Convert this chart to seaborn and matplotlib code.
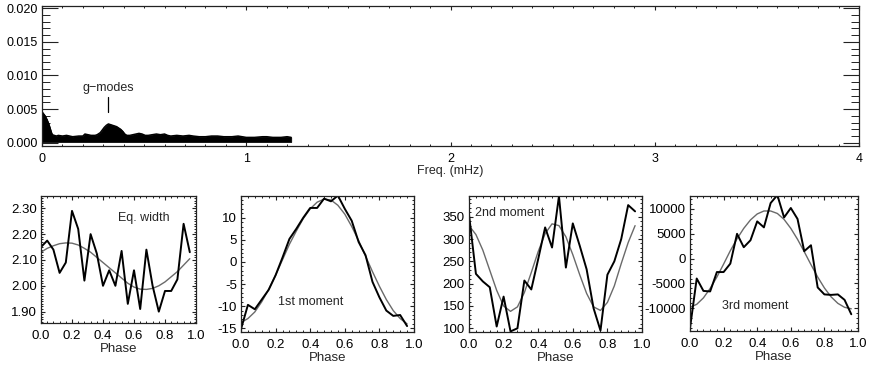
import numpy as np
import pandas as pd
import matplotlib
matplotlib.use("Agg")
import matplotlib.pyplot as plt
from matplotlib.ticker import MultipleLocator, FormatStrFormatter
import seaborn as sns

# ---------------- data ----------------
# amplitude spectrum upper envelope (freq in mHz, amplitude)
spec_freq = [0.000, 0.005, 0.010, 0.015, 0.020, 0.025, 0.030, 0.035, 0.040, 0.045, 0.050,
             0.060, 0.070, 0.080, 0.100, 0.120, 0.150, 0.180, 0.200, 0.210, 0.225, 0.240,
             0.260, 0.270, 0.285, 0.295, 0.305, 0.315, 0.325, 0.335, 0.345, 0.355, 0.365,
             0.375, 0.385, 0.395, 0.405, 0.415, 0.430, 0.445, 0.460, 0.475, 0.490, 0.505,
             0.520, 0.540, 0.560, 0.580, 0.600, 0.615, 0.630, 0.660, 0.690, 0.720, 0.740,
             0.770, 0.800, 0.830, 0.860, 0.890, 0.930, 0.960, 1.000, 1.040, 1.080, 1.100,
             1.130, 1.170, 1.200, 1.220]
spec_amp = [0.0046, 0.0044, 0.0042, 0.0040, 0.0037, 0.0034, 0.0030, 0.0026, 0.0021, 0.0016, 0.0012,
            0.0011, 0.0010, 0.0011, 0.0010, 0.0011, 0.0009, 0.0010, 0.0010, 0.0013, 0.0012, 0.0011,
            0.0011, 0.0012, 0.0015, 0.0019, 0.0023, 0.0026, 0.0028, 0.0027, 0.0026, 0.0025, 0.0024,
            0.0022, 0.0020, 0.0017, 0.0013, 0.0011, 0.0011, 0.0012, 0.0013, 0.0014, 0.0013, 0.0011,
            0.0011, 0.0012, 0.0013, 0.0012, 0.0013, 0.0011, 0.0010, 0.0011, 0.0010, 0.0011, 0.0010,
            0.0009, 0.0009, 0.0010, 0.0010, 0.0009, 0.0009, 0.0010, 0.0008, 0.0008, 0.0009, 0.0009,
            0.0008, 0.0008, 0.0009, 0.0008]
spec_floor = 0.00012

phase = [0.00, 0.04, 0.08, 0.12, 0.16, 0.20, 0.24, 0.28, 0.32, 0.36, 0.40, 0.44, 0.48,
         0.52, 0.56, 0.60, 0.64, 0.68, 0.72, 0.76, 0.80, 0.84, 0.88, 0.92, 0.96]

eqw_obs = [2.15, 2.175, 2.14, 2.05, 2.09, 2.29, 2.22, 2.02, 2.20, 2.125, 2.00, 2.06, 2.00,
           2.135, 1.93, 2.06, 1.91, 2.14, 2.00, 1.90, 1.98, 1.98, 2.025, 2.24, 2.13]
eqw_fit = [2.13, 2.145, 2.155, 2.163, 2.166, 2.165, 2.158, 2.145, 2.13, 2.11, 2.09, 2.07, 2.05,
           2.03, 2.01, 1.995, 1.987, 1.986, 1.99, 2.00, 2.015, 2.035, 2.055, 2.08, 2.105]

m1_obs = [-15.2, -9.7, -10.7, -8.5, -6.3, -3.0, 1.0, 5.2, 7.5, 10.0, 12.2, 12.2, 14.3,
          13.7, 15.0, 12.0, 9.3, 4.5, 1.5, -4.5, -8.0, -11.0, -12.2, -12.0, -14.5]
m1_fit = [-13.7, -12.8, -11.3, -9.0, -6.2, -3.0, 0.5, 4.0, 7.0, 9.8, 12.0, 13.5, 14.2,
          14.0, 12.8, 10.8, 8.0, 4.8, 1.3, -2.2, -5.5, -8.5, -11.0, -12.8, -14.0]

m2_obs = [355, 222, 205, 192, 104, 171, 93, 100, 207, 187, 255, 326, 281,
          396, 236, 335, 285, 232, 145, 95, 220, 250, 300, 376, 362]
m2_fit = [330, 310, 275, 230, 185, 150, 138, 148, 180, 225, 272, 312, 334,
          330, 305, 265, 220, 178, 148, 140, 158, 195, 245, 292, 330]

m3_obs = [-14000, -4000, -6500, -6600, -2700, -2700, -1000, 5000, 2300, 3700, 7500, 6300, 11200,
          12800, 8300, 10200, 8000, 1500, 2700, -5800, -7200, -7300, -7200, -8300, -11200]
m3_fit = [-9800, -9200, -7900, -6000, -3700, -1100, 1600, 4000, 6100, 7800, 9000, 9600, 9600,
          9100, 7900, 6100, 3900, 1400, -1200, -3700, -5900, -7700, -9000, -9800, -10100]

panel_labels = ["Eq. width", "1st moment", "2nd moment", "3rd moment"]
top_xticks = [0, 1, 2, 3, 4]
top_yticks = [0.000, 0.005, 0.010, 0.015, 0.020]
phase_ticks = [0.0, 0.2, 0.4, 0.6, 0.8, 1.0]

# ---------------- style ----------------
sns.set_theme(style="ticks")
plt.rcParams['font.family'] = ['Liberation Sans', 'DejaVu Sans']
plt.rcParams.update({
    "axes.edgecolor": "#222222",
    "axes.linewidth": 0.9,
    "xtick.direction": "in",
    "ytick.direction": "in",
    "xtick.top": True,
    "ytick.right": True,
    "xtick.color": "#222222",
    "ytick.color": "#222222",
    "xtick.labelcolor": "black",
    "ytick.labelcolor": "black",
    "font.size": 9,
})

W, H = 871, 368
fig = plt.figure(figsize=(W / 100, H / 100), dpi=100)


def rect(x0, y0, x1, y1):
    return [x0 / W, 1 - y1 / H, (x1 - x0) / W, (y1 - y0) / H]


# ---------------- top panel ----------------
ax = fig.add_axes(rect(42, 6, 859, 146))
spec_df = pd.DataFrame({"freq": spec_freq, "amp": spec_amp})
ax.fill_between(spec_df["freq"], spec_floor, spec_df["amp"], color="black", lw=0.6,
                edgecolor="black")
sns.lineplot(data=spec_df, x="freq", y="amp", ax=ax, color="black", lw=1.0)
ax.set_xlim(0, 4)
ax.set_ylim(-0.00049, 0.02034)
ax.set_xticks(top_xticks)
ax.set_xticklabels([str(t) for t in top_xticks])
ax.set_yticks(top_yticks)
ax.yaxis.set_major_formatter(FormatStrFormatter("%.3f"))
ax.xaxis.set_minor_locator(MultipleLocator(0.1))
ax.yaxis.set_minor_locator(MultipleLocator(0.001))
ax.tick_params(axis="y", which="major", length=11.5, width=0.8, labelsize=9, pad=3)
ax.tick_params(axis="y", which="minor", length=5.8, width=0.7)
ax.tick_params(axis="x", which="major", length=2.8, width=0.8, labelsize=9, pad=5)
ax.tick_params(axis="x", which="minor", length=1.5, width=0.7)
ax.set_xlabel("Freq. (mHz)", fontsize=9, labelpad=0)
ax.set_ylabel("")
ax.text(0.323, 0.0082, "g\u2212modes", ha="center", va="center", fontsize=9)
ax.plot([0.323, 0.323], [0.0046, 0.00685], color="black", lw=0.9)
for s in ax.spines.values():
    s.set_visible(True)

# ---------------- bottom panels ----------------
panels = [
    (rect(41, 196, 196, 323), eqw_obs, eqw_fit, (1.856, 2.3476), 0.10, 0.01, "%.2f",
     (0.665, 2.262, "center")),
    (rect(241, 196, 414, 332), m1_obs, m1_fit, (-15.84, 14.9), 5, 1, "%d",
     (0.40, -9.05, "center")),
    (rect(469, 196, 642, 332), m2_obs, m2_fit, (91.7, 396.4), 50, 10, "%d",
     (0.035, 358, "left")),
    (rect(690, 196, 858, 331), m3_obs, m3_fit, (-14572, 12618), 5000, 1000, "%d",
     (0.39, -9500, "center")),
]

for (r, obs, fit, ylim, maj, mnr, fmt, (tx, ty, ha)), lab in zip(panels, panel_labels):
    a = fig.add_axes(r)
    df = pd.DataFrame({"phase": phase, "obs": obs, "fit": fit})
    sns.lineplot(data=df, x="phase", y="fit", ax=a, color="#6a6a6a", lw=1.0)
    sns.lineplot(data=df, x="phase", y="obs", ax=a, color="black", lw=1.4)
    a.set_xlim(0, 1)
    a.set_ylim(*ylim)
    a.set_xticks(phase_ticks)
    a.xaxis.set_major_formatter(FormatStrFormatter("%.1f"))
    a.xaxis.set_minor_locator(MultipleLocator(0.04))
    a.yaxis.set_major_locator(MultipleLocator(maj))
    a.yaxis.set_minor_locator(MultipleLocator(mnr))
    a.yaxis.set_major_formatter(FormatStrFormatter(fmt))
    a.tick_params(axis="x", which="major", length=3.0, width=0.8, labelsize=9.5, pad=5)
    a.tick_params(axis="y", which="major", length=3.0, width=0.8, labelsize=9.5, pad=3)
    a.tick_params(which="minor", length=1.5, width=0.7)
    a.set_xlabel("Phase", fontsize=9.5, labelpad=1)
    a.set_ylabel("")
    a.text(tx, ty, lab, ha=ha, va="center", fontsize=9)
    for s in a.spines.values():
        s.set_visible(True)

fig.savefig("out.png", dpi=100)
